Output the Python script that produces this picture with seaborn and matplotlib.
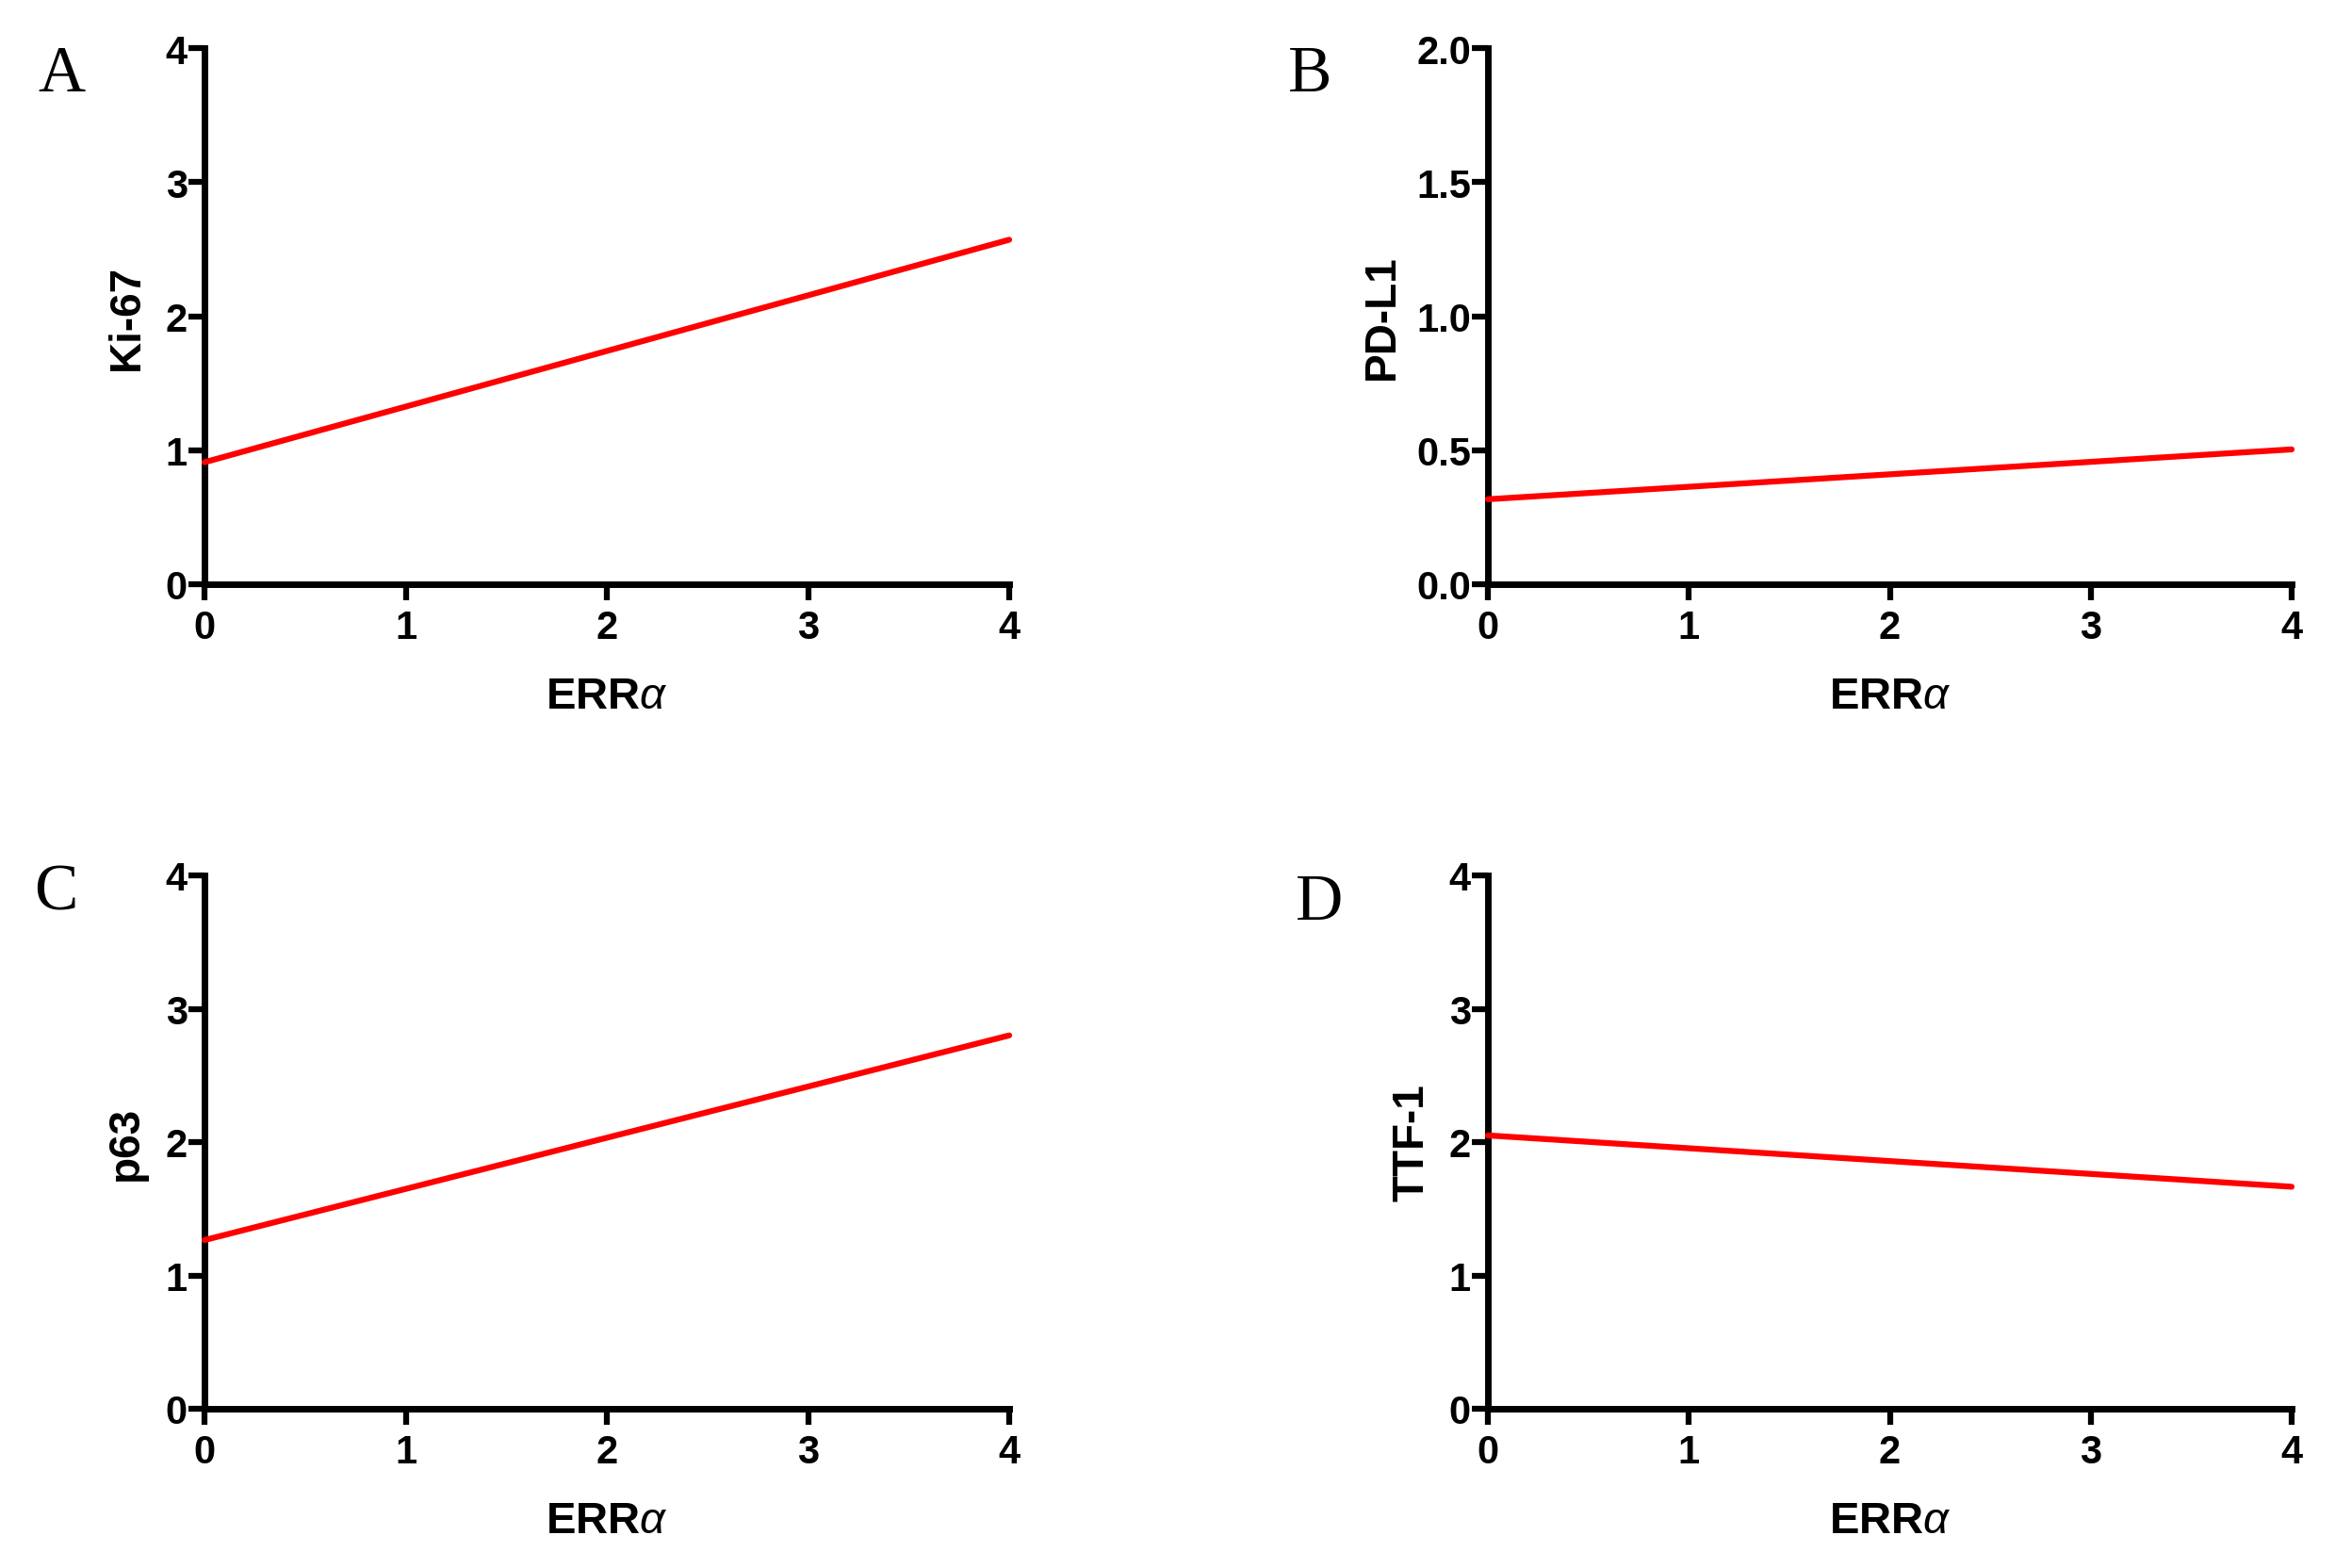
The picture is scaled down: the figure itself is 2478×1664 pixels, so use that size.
import matplotlib
matplotlib.use("Agg")
import matplotlib.pyplot as plt
import seaborn as sns
import pandas as pd

# Datos (extremos de las rectas de regresión)
erra = [0, 4]
ki67 = [0.91, 2.57]
pdl1 = [0.317, 0.503]
p63 = [1.265, 2.80]
ttf1 = [2.05, 1.665]

panel_letras = ["A", "B", "C", "D"]
ylabels = ["Ki-67", "PD-L1", "p63", "TTF-1"]
series = [ki67, pdl1, p63, ttf1]
yticks_1 = [0, 1, 2, 3, 4]
yticks_b = [0.0, 0.5, 1.0, 1.5, 2.0]
xticks = [0, 1, 2, 3, 4]

sns.set_style("ticks")
plt.rcParams['font.family'] = ['Liberation Sans', 'DejaVu Sans']
plt.rcParams['mathtext.fontset'] = 'custom'
plt.rcParams['mathtext.it'] = 'Liberation Sans:italic'
plt.rcParams['mathtext.rm'] = 'Liberation Sans:bold'
plt.rcParams['text.color'] = 'black'
plt.rcParams['axes.labelcolor'] = 'black'
plt.rcParams['xtick.color'] = 'black'
plt.rcParams['ytick.color'] = 'black'

W, H = 2478, 1665
fig = plt.figure(figsize=(W / 100, H / 100), dpi=100)

# posiciones de los ejes en pixeles: (izq, der, arriba, abajo)
cajas = [(217, 1071, 52, 621), (1579, 2432, 52, 621),
         (217, 1071, 930, 1496), (1579, 2432, 930, 1496)]
letras_pos = [(40, 97), (1367, 97), (36, 966), (1375, 976)]
ylabel_x = [-0.070, -0.106, -0.072, -0.069]

for i, (l, r, t, b) in enumerate(cajas):
    ax = fig.add_axes([l / W, 1 - b / H, (r - l) / W, (b - t) / H])
    df = pd.DataFrame({"ERRa": erra, "val": series[i]})
    sns.lineplot(data=df, x="ERRa", y="val", ax=ax, color="#ff0000",
                 linewidth=4.5, clip_on=False, zorder=5)

    ax.set_xlim(0, 4)
    ax.set_xticks(xticks)
    ax.set_xticklabels([str(v) for v in xticks])
    if i == 1:
        ax.set_ylim(0, 2)
        ax.set_yticks(yticks_b)
        ax.set_yticklabels([f"{v:.1f}" for v in yticks_b])
    else:
        ax.set_ylim(0, 4)
        ax.set_yticks(yticks_1)
        ax.set_yticklabels([str(v) for v in yticks_1])

    sns.despine(ax=ax)
    for s in ["left", "bottom"]:
        ax.spines[s].set_linewidth(5)
        ax.spines[s].set_color("black")
    ax.tick_params(axis="both", length=12, width=4.5, color="black",
                   labelsize=30, labelcolor="black")
    ax.tick_params(axis="y", pad=1)
    ax.tick_params(axis="x", pad=7)
    for lab in ax.get_xticklabels() + ax.get_yticklabels():
        lab.set_fontweight("bold")

    ax.set_xlabel(r"ERR$\alpha$", fontsize=34, fontweight="bold",
                  labelpad=22, color="black")
    ax.set_ylabel(ylabels[i], fontsize=33, fontweight="bold", color="black")
    ax.yaxis.set_label_coords(ylabel_x[i], 0.5)

    lx, ly = letras_pos[i]
    fig.text(lx / W, 1 - ly / H, panel_letras[i], fontsize=50, color="black",
             family="Liberation Serif", ha="left", va="baseline")

fig.savefig("out.png", dpi=100, facecolor="white")
